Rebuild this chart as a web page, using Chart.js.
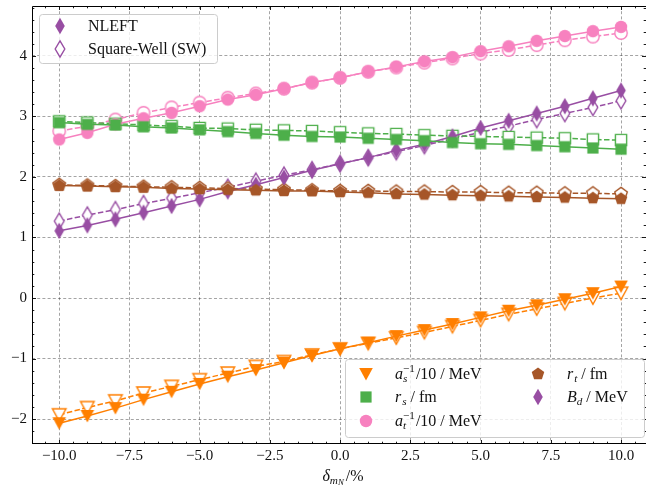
<!DOCTYPE html>
<html lang="en">
<head>
<meta charset="UTF-8">
<title>NLEFT vs Square-Well</title>
<script src="https://cdn.jsdelivr.net/npm/chart.js@4.4.1/dist/chart.umd.min.js"></script>
<style>
  html, body { margin: 0; padding: 0; background: #fff; }
  #wrap { width: 646px; height: 486px; }
</style>
</head>
<body>
<div id="wrap"><canvas id="chart" width="646" height="486"></canvas></div>
<script>
// nucleon mass shift, in %
const deltaMN = [-10, -9, -8, -7, -6, -5, -4, -3, -2, -1, 0, 1, 2, 3, 4, 5, 6, 7, 8, 9, 10];

// NLEFT (filled markers, solid lines)
const asInvNLEFT = [-2.07, -1.95, -1.82, -1.68, -1.55, -1.42, -1.30, -1.19, -1.07, -0.95, -0.84, -0.74, -0.63, -0.53, -0.43, -0.32, -0.21, -0.12, -0.02, 0.08, 0.19];
const rsNLEFT    = [2.90, 2.87, 2.86, 2.83, 2.81, 2.78, 2.75, 2.72, 2.69, 2.67, 2.66, 2.64, 2.62, 2.60, 2.57, 2.55, 2.54, 2.52, 2.50, 2.48, 2.46];
const atInvNLEFT = [2.62, 2.73, 2.87, 2.97, 3.06, 3.17, 3.28, 3.36, 3.46, 3.56, 3.64, 3.74, 3.82, 3.91, 3.98, 4.08, 4.16, 4.25, 4.33, 4.41, 4.48];
const rtNLEFT    = [1.86, 1.85, 1.84, 1.83, 1.81, 1.80, 1.79, 1.78, 1.77, 1.77, 1.75, 1.74, 1.72, 1.71, 1.70, 1.69, 1.68, 1.67, 1.66, 1.65, 1.64];
const bdNLEFT    = [1.11, 1.20, 1.30, 1.41, 1.52, 1.63, 1.76, 1.87, 1.99, 2.11, 2.22, 2.32, 2.44, 2.54, 2.67, 2.81, 2.93, 3.05, 3.17, 3.30, 3.43];

// Square-Well (open markers, dashed lines)
const asInvSW = [-1.93, -1.81, -1.70, -1.57, -1.46, -1.35, -1.24, -1.13, -1.05, -0.94, -0.84, -0.75, -0.66, -0.57, -0.47, -0.37, -0.27, -0.18, -0.09, 0.00, 0.08];
const rsSW    = [2.92, 2.90, 2.88, 2.86, 2.84, 2.81, 2.80, 2.78, 2.77, 2.76, 2.74, 2.72, 2.71, 2.69, 2.68, 2.67, 2.66, 2.65, 2.64, 2.62, 2.61];
const atInvSW = [2.76, 2.84, 2.95, 3.06, 3.15, 3.23, 3.31, 3.38, 3.46, 3.56, 3.64, 3.74, 3.81, 3.89, 3.96, 4.04, 4.10, 4.18, 4.26, 4.32, 4.38];
const rtSW    = [1.87, 1.86, 1.85, 1.84, 1.83, 1.82, 1.81, 1.80, 1.79, 1.78, 1.77, 1.77, 1.76, 1.76, 1.75, 1.75, 1.74, 1.74, 1.73, 1.73, 1.72];
const bdSW    = [1.27, 1.37, 1.46, 1.56, 1.65, 1.74, 1.83, 1.93, 2.03, 2.12, 2.22, 2.32, 2.42, 2.52, 2.63, 2.74, 2.84, 2.95, 3.05, 3.15, 3.26];

const xTicks = [-10, -7.5, -5, -2.5, 0, 2.5, 5, 7.5, 10];
const xTickLabels = ['\u221210.0', '\u22127.5', '\u22125.0', '\u22122.5', '0.0', '2.5', '5.0', '7.5', '10.0'];
const yTicks = [-2, -1, 0, 1, 2, 3, 4];
const yTickLabels = ['\u22122', '\u22121', '0', '1', '2', '3', '4'];

const methodLabels = ['NLEFT', 'Square-Well (SW)'];

const C = { as: '#ff7f00', rs: '#4daf4a', at: '#f781bf', rt: '#a65628', bd: '#984ea3' };
const SERIF = '"Liberation Serif", "DejaVu Serif", serif';

// marker sprites (matplotlib-like v, s, o, p, d)
function makeMarker(shape, color, filled) {
  const c = document.createElement('canvas');
  c.width = shape === 'diamond' ? 14 : 18;
  c.height = shape === 'diamond' ? 20 : 18;
  const g = c.getContext('2d');
  const cx = c.width / 2, cy = c.height / 2;
  g.beginPath();
  if (shape === 'circle') {
    g.arc(cx, cy, 6.2, 0, Math.PI * 2);
  } else if (shape === 'square') {
    g.rect(cx - 5.6, cy - 5.6, 11.2, 11.2);
  } else if (shape === 'tri') {
    g.moveTo(cx, cy + 6.4); g.lineTo(cx - 6.8, cy - 6); g.lineTo(cx + 6.8, cy - 6); g.closePath();
  } else if (shape === 'pent') {
    for (let k = 0; k < 5; k++) {
      const a = -Math.PI / 2 + k * 2 * Math.PI / 5;
      const px = cx + 6.6 * Math.cos(a), py = cy + 6.6 * Math.sin(a);
      if (k === 0) g.moveTo(px, py); else g.lineTo(px, py);
    }
    g.closePath();
  } else {
    g.moveTo(cx, cy - 8.2); g.lineTo(cx + 4.8, cy); g.lineTo(cx, cy + 8.2); g.lineTo(cx - 4.8, cy); g.closePath();
  }
  if (filled) {
    g.fillStyle = color; g.fill();
  } else {
    g.fillStyle = '#fff'; g.fill();
    g.lineWidth = 1.4; g.strokeStyle = color; g.stroke();
  }
  return c;
}

function series(values, color, shape, filled) {
  return {
    data: deltaMN.map((x, i) => ({ x: x, y: values[i] })),
    showLine: true,
    borderColor: color,
    backgroundColor: color,
    borderWidth: 1.5,
    borderDash: filled ? [] : [5.5, 2.4],
    pointStyle: makeMarker(shape, color, filled),
    pointRadius: 6,
    pointHoverRadius: 6
  };
}

// first datasets end up on top
const datasets = [
  series(asInvNLEFT, C.as, 'tri', true),
  series(rsNLEFT, C.rs, 'square', true),
  series(atInvNLEFT, C.at, 'circle', true),
  series(rtNLEFT, C.rt, 'pent', true),
  series(bdNLEFT, C.bd, 'diamond', true),
  series(asInvSW, C.as, 'tri', false),
  series(rsSW, C.rs, 'square', false),
  series(atInvSW, C.at, 'circle', false),
  series(rtSW, C.rt, 'pent', false),
  series(bdSW, C.bd, 'diamond', false)
];

// mixed roman / italic / sub / sup text
function drawMath(ctx, x, y, parts, size, draw) {
  let cx = x;
  parts.forEach(p => {
    let fs = size, dy = 0;
    if (p.s === 'sub') { fs = size * 0.7; dy = size * 0.24; }
    if (p.s === 'sup') { fs = size * 0.7; dy = -size * 0.36; }
    if (p.s === 'subsub') { fs = size * 0.55; dy = size * 0.36; }
    ctx.font = (p.i ? 'italic ' : '') + fs + 'px ' + SERIF;
    if (draw) ctx.fillText(p.t, cx, y + dy);
    if (!p.stack) cx += ctx.measureText(p.t).width + (p.gap || 0);
  });
  return cx - x;
}

const legendItems = [
  { marker: makeMarker('tri', C.as, true), parts: [{ t: 'a', i: 1 }, { t: 's', i: 1, s: 'sub', stack: 1 }, { t: '\u22121', s: 'sup', gap: 1 }, { t: '/10', gap: 4 }, { t: '/ MeV' }] },
  { marker: makeMarker('square', C.rs, true), parts: [{ t: 'r', i: 1, gap: 1 }, { t: 's', i: 1, s: 'sub', gap: 4 }, { t: '/ fm' }] },
  { marker: makeMarker('circle', C.at, true), parts: [{ t: 'a', i: 1 }, { t: 't', i: 1, s: 'sub', stack: 1 }, { t: '\u22121', s: 'sup', gap: 1 }, { t: '/10', gap: 4 }, { t: '/ MeV' }] },
  { marker: makeMarker('pent', C.rt, true), parts: [{ t: 'r', i: 1, gap: 1 }, { t: 't', i: 1, s: 'sub', gap: 4 }, { t: '/ fm' }] },
  { marker: makeMarker('diamond', C.bd, true), parts: [{ t: 'B', i: 1 }, { t: 'd', i: 1, s: 'sub', gap: 4 }, { t: '/ MeV' }] }
];

function legendBox(ctx, x0, y0, x1, y1) {
  ctx.save();
  ctx.beginPath();
  ctx.roundRect(x0 + 0.5, y0 + 0.5, x1 - x0, y1 - y0, 3);
  ctx.fillStyle = 'rgba(255,255,255,0.8)';
  ctx.fill();
  ctx.strokeStyle = '#cccccc';
  ctx.lineWidth = 1;
  ctx.stroke();
  ctx.restore();
}

function stamp(ctx, img, x, y) {
  ctx.drawImage(img, Math.round(x - img.width / 2), Math.round(y - img.height / 2));
}

const decorPlugin = {
  id: 'decor',
  afterDatasetsDraw(chart) {
    const { ctx, chartArea: a, scales } = chart;
    const xs = scales.x, ys = scales.y;
    ctx.save();
    ctx.strokeStyle = '#000';
    ctx.lineWidth = 1;
    ctx.beginPath();
    ctx.moveTo(a.left + 0.5, a.bottom);
    ctx.lineTo(a.left + 0.5, a.top + 0.5);
    ctx.lineTo(a.right, a.top + 0.5);
    ctx.moveTo(a.left, a.bottom - 0.5);
    ctx.lineTo(a.right, a.bottom - 0.5);
    ctx.stroke();

    // inward ticks on all sides
    ctx.lineWidth = 0.9;
    ctx.beginPath();
    for (let v = -10.5; v <= 10.8; v += 0.5) {
      const major = Math.abs(v / 2.5 - Math.round(v / 2.5)) < 1e-6;
      const len = major ? 4 : 2.3;
      const px = Math.round(xs.getPixelForValue(v)) + 0.5;
      ctx.moveTo(px, a.bottom); ctx.lineTo(px, a.bottom - len);
      ctx.moveTo(px, a.top); ctx.lineTo(px, a.top + len);
    }
    for (let i = -12; i <= 24; i++) {
      const v = i * 0.2;
      const major = i % 5 === 0;
      const len = major ? 4 : 2.3;
      const py = Math.round(ys.getPixelForValue(v)) + 0.5;
      ctx.moveTo(a.left, py); ctx.lineTo(a.left + len, py);
      ctx.moveTo(a.right, py); ctx.lineTo(a.right - len, py);
    }
    ctx.stroke();
    ctx.restore();
  },
  afterDraw(chart) {
    const ctx = chart.ctx;
    ctx.save();
    ctx.fillStyle = '#111';
    ctx.textBaseline = 'middle';
    ctx.textAlign = 'left';

    // method legend
    legendBox(ctx, 39, 14, 217, 63);
    stamp(ctx, makeMarker('diamond', C.bd, true), 60, 26);
    stamp(ctx, makeMarker('diamond', C.bd, false), 60, 49);
    ctx.font = '16px ' + SERIF;
    ctx.fillStyle = '#111';
    ctx.fillText(methodLabels[0], 88, 27);
    ctx.fillText(methodLabels[1], 88, 50);

    // observable legend
    legendBox(ctx, 345, 359, 644, 437);
    const slots = [[366, 395, 374], [366, 395, 397], [366, 395, 421], [538, 567, 374], [538, 567, 397]];
    legendItems.forEach((it, k) => {
      const [mx, tx, y] = slots[k];
      stamp(ctx, it.marker, mx, y);
      drawMath(ctx, tx, y + 1, it.parts, 16, true);
    });

    // x axis title
    const title = [{ t: '\u03b4', i: 1 }, { t: 'm', i: 1, s: 'sub' }, { t: 'N', i: 1, s: 'subsub', gap: 2 }, { t: '/%' }];
    const w = drawMath(ctx, 0, 0, title, 16, false);
    drawMath(ctx, 343 - w / 2, 477, title, 16, true);
    ctx.restore();
  }
};

const tickFont = { family: SERIF, size: 15 };

function noPad(s) {
  s.paddingTop = 0; s.paddingBottom = 0; s.paddingLeft = 0; s.paddingRight = 0;
}

new Chart(document.getElementById('chart'), {
  type: 'scatter',
  data: { datasets: datasets },
  options: {
    responsive: false,
    animation: false,
    layout: { autoPadding: false, padding: { top: 6, left: 0, right: 0, bottom: 0 } },
    plugins: { legend: { display: false }, tooltip: { enabled: false } },
    scales: {
      x: {
        type: 'linear',
        min: -10.97,
        max: 10.89,
        afterBuildTicks: s => { s.ticks = xTicks.map(v => ({ value: v })); },
        afterFit: s => { s.height = 42; noPad(s); },
        ticks: { callback: (v, i) => xTickLabels[i], font: tickFont, color: '#111', padding: 3, maxRotation: 0, autoSkip: false },
        grid: { color: 'rgba(0,0,0,0.45)', lineWidth: 0.8, drawTicks: false, tickLength: 0 },
        border: { display: false, dash: [3, 2.2] }
      },
      y: {
        type: 'linear',
        min: -2.413,
        max: 4.826,
        afterBuildTicks: s => { s.ticks = yTicks.map(v => ({ value: v })); },
        afterFit: s => { s.width = 32; noPad(s); },
        ticks: { callback: (v, i) => yTickLabels[i], font: tickFont, color: '#111', padding: 5, autoSkip: false },
        grid: { color: 'rgba(0,0,0,0.45)', lineWidth: 0.8, drawTicks: false, tickLength: 0 },
        border: { display: false, dash: [3, 2.2] }
      }
    }
  },
  plugins: [decorPlugin]
});
</script>
</body>
</html>
